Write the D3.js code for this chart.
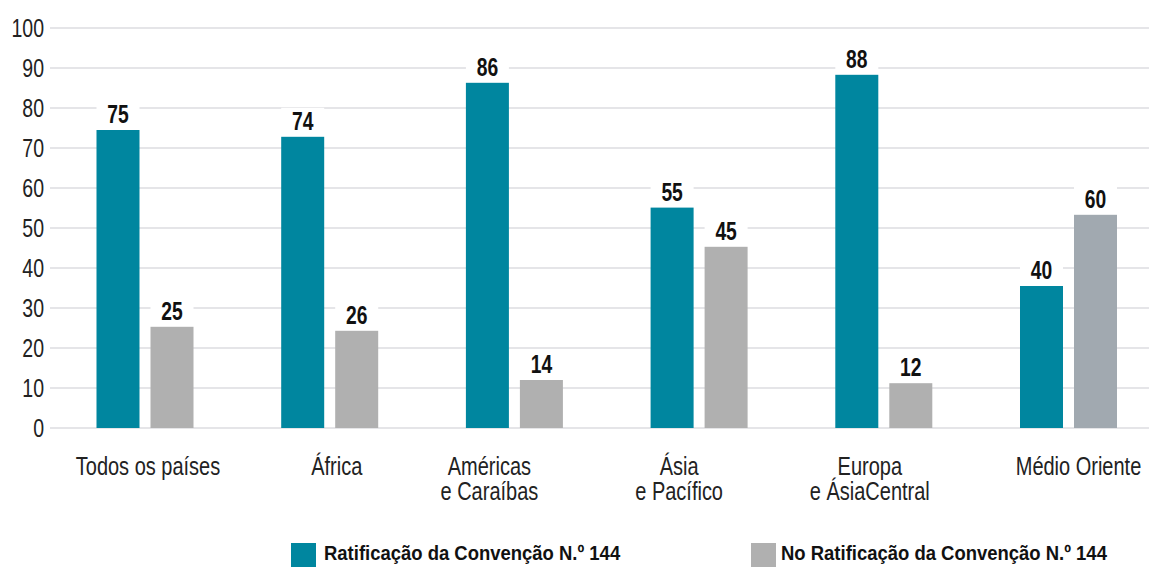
<!DOCTYPE html>
<html>
<head>
<meta charset="utf-8">
<script src="https://cdn.jsdelivr.net/npm/d3@7"></script>
<style>
  body { margin: 0; background: #fff; }
  text { font-family: "Liberation Sans", Arial, sans-serif; }
</style>
</head>
<body>
<svg id="chart" width="1149" height="567"></svg>
<script>
// data
var categories = ["Todos os países", "África", "Américas\ne Caraíbas", "Ásia\ne Pacífico", "Europa\ne ÁsiaCentral", "Médio Oriente"];
var series = ["Ratificação da Convenção N.º 144", "No Ratificação da Convenção N.º 144"];
// bar heights as drawn
var ratified = [74.5, 72.8, 86.3, 55.1, 88.3, 35.5];
var notRatified = [25.3, 24.3, 12.0, 45.3, 11.2, 53.3];
// printed labels
var ratifiedLabels = ["75", "74", "86", "55", "88", "40"];
var notRatifiedLabels = ["25", "26", "14", "45", "12", "60"];
var yTicks = [0, 10, 20, 30, 40, 50, 60, 70, 80, 90, 100];

// layout
var labelDx = [3, 7, -25, -20, -14, 10];
var colors = ["#00869f", "#b0b0b0"];
var lastGray = "#a1a9b0";

var svg = d3.select("#chart");

// no condensed font installed, so squeeze text horizontally
function place(x, y, sx){
    return "translate(" + x + "," + y + ") scale(" + sx + ",1)";
}

var y = d3.scaleLinear().domain([0, 100]).range([428, 28]);

var x0 = d3.scaleBand()
    .domain(categories)
    .range([52.65, 1160.85])
    .paddingInner(0.4748)
    .paddingOuter(0.2374);

var x1 = d3.scaleBand()
    .domain(series)
    .range([0, x0.bandwidth()])
    .paddingInner(0.2037);

// gridlines
svg.append("g").selectAll("line")
    .data(yTicks)
    .join("line")
    .attr("x1", 50).attr("x2", 1149)
    .attr("y1", d => y(d)).attr("y2", d => y(d))
    .style("stroke", "#dcdce0")
    .style("stroke-width", 1.5);

// y tick labels
svg.append("g").selectAll("text")
    .data(yTicks)
    .join("text")
    .attr("transform", d => place(44, y(d), 0.78))
    .attr("dy", "0.36em")
    .attr("text-anchor", "end")
    .style("font-size", "25px")
    .style("fill", "#222")
    .text(d => d);

var rows = categories.map(function(c, i){
    return [
	{cat: c, s: series[0], v: ratified[i], label: ratifiedLabels[i], color: colors[0]},
	{cat: c, s: series[1], v: notRatified[i], label: notRatifiedLabels[i],
	 color: i == categories.length - 1 ? lastGray : colors[1]}
    ];
});

var groups = svg.append("g").selectAll("g")
    .data(rows)
    .join("g")
    .attr("transform", d => "translate(" + x0(d[0].cat) + ",0)");

// white box behind each value label so gridlines break there
groups.selectAll("rect.bg")
    .data(d => d)
    .join("rect")
    .attr("class", "bg")
    .attr("x", d => x1(d.s))
    .attr("width", x1.bandwidth())
    .attr("y", d => y(d.v) - 29)
    .attr("height", 29)
    .style("fill", "#fff");

groups.selectAll("rect.bar")
    .data(d => d)
    .join("rect")
    .attr("class", "bar")
    .attr("x", d => x1(d.s))
    .attr("width", x1.bandwidth())
    .attr("y", d => y(d.v))
    .attr("height", d => y(0) - y(d.v))
    .style("fill", d => d.color);

groups.selectAll("text.val")
    .data(d => d)
    .join("text")
    .attr("class", "val")
    .attr("transform", d => place(x1(d.s) + x1.bandwidth() / 2, y(d.v) - 7, 0.77))
    .attr("text-anchor", "middle")
    .style("font-size", "25px")
    .style("font-weight", "bold")
    .style("fill", "#111")
    .text(d => d.label);

// category labels
var catText = svg.append("g").selectAll("text")
    .data(categories)
    .join("text")
    .attr("transform", (d, i) => place(x0(d) + x0.bandwidth() / 2 + labelDx[i], 475, 0.8))
    .attr("text-anchor", "middle")
    .style("font-size", "25px")
    .style("fill", "#222");

catText.selectAll("tspan")
    .data(d => d.split("\n"))
    .join("tspan")
    .attr("x", 0)
    .attr("dy", (d, i) => i == 0 ? 0 : 25)
    .text(d => d);

// legend
var legendX = [291, 751];
var legend = svg.append("g").selectAll("g")
    .data(series)
    .join("g")
    .attr("transform", (d, i) => "translate(" + legendX[i] + ",543)");

legend.append("rect")
    .attr("width", 25).attr("height", 25)
    .style("fill", (d, i) => colors[i]);

legend.append("text")
    .attr("transform", (d, i) => place(i == 0 ? 33 : 30, 17, 0.88))
    .style("font-size", "21px")
    .style("font-weight", "bold")
    .style("fill", "#111")
    .text(d => d);
</script>
</body>
</html>
